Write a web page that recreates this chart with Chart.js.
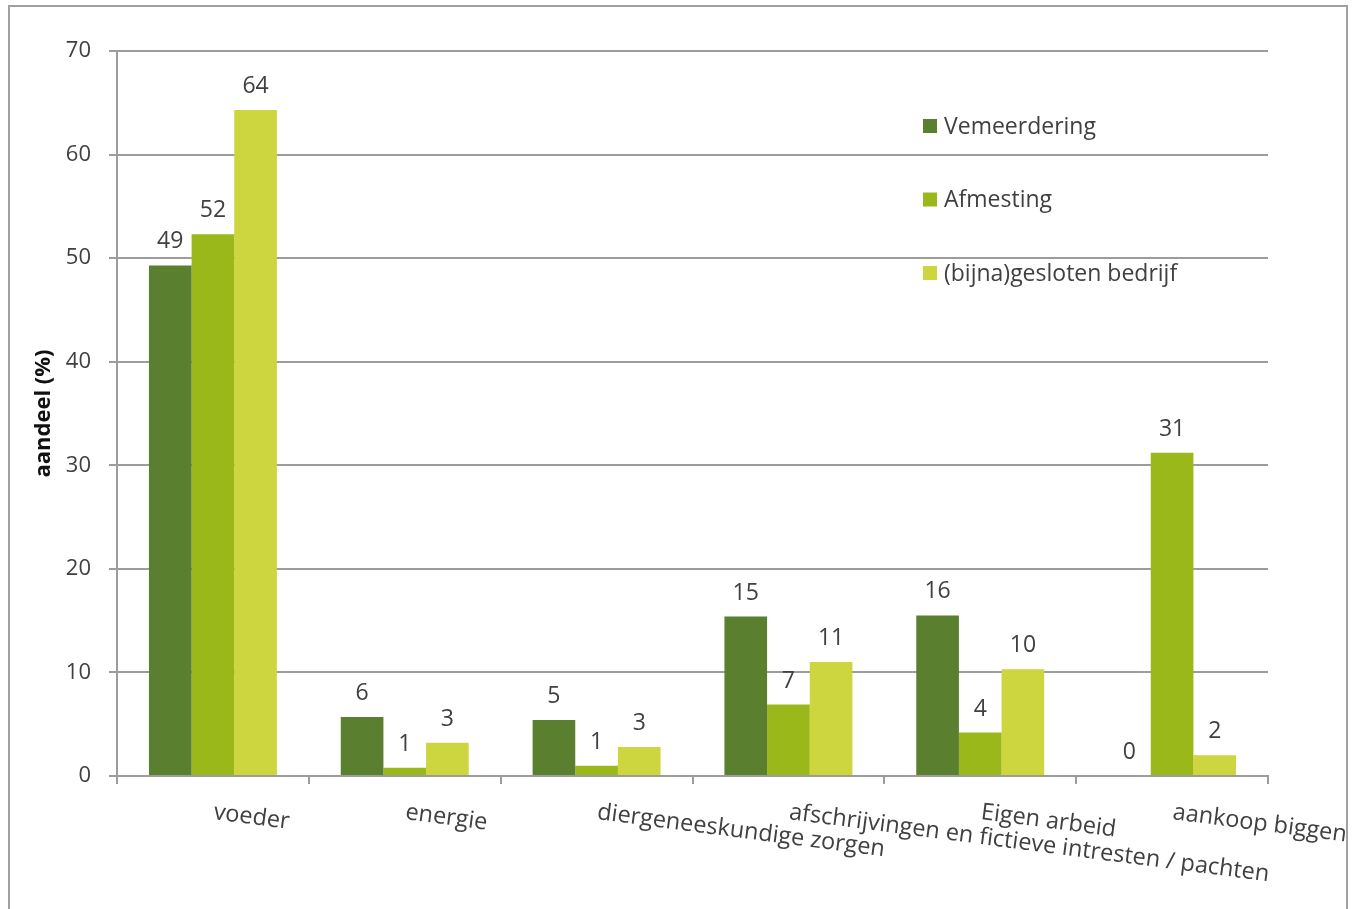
<!DOCTYPE html>
<html>
<head>
<meta charset="utf-8">
<script src="https://cdn.jsdelivr.net/npm/chart.js@4.4.1/dist/chart.umd.min.js"></script>
<style>
  html, body { margin: 0; padding: 0; background: #ffffff; }
  #wrap { width: 1354px; height: 909px; position: relative; }
</style>
</head>
<body>
<div id="wrap"><canvas id="c" width="1354" height="909"></canvas></div>
<script>
const categories = ['voeder', 'energie', 'diergeneeskundige zorgen', 'afschrijvingen en fictieve intresten / pachten', 'Eigen arbeid', 'aankoop biggen'];
const seriesNames = ['Vemeerdering', 'Afmesting', '(bijna)gesloten bedrijf'];
const vermeerdering = [49.3, 5.7, 5.4, 15.4, 15.5, 0];
const afmesting = [52.3, 0.8, 1.0, 6.9, 4.2, 31.2];
const gesloten = [64.3, 3.2, 2.8, 11.0, 10.3, 2.0];
const yTicks = [0, 10, 20, 30, 40, 50, 60, 70];
const colors = ['#5a7f2e', '#9bb81a', '#cdd63f'];

const FONT = '"Open Sans", "DejaVu Sans", sans-serif';
const TEXT = '#404040';
const GRID = '#9c9c9c';

const framePlugin = {
  id: 'frame',
  beforeDraw(chart) {
    const ctx = chart.ctx;
    ctx.save();
    ctx.fillStyle = '#ffffff';
    ctx.fillRect(0, 0, chart.width, chart.height);
    ctx.strokeStyle = '#a0a0a0';
    ctx.lineWidth = 2;
    ctx.strokeRect(9, 6, 1338, 920);
    ctx.restore();
  }
};

const labelPlugin = {
  id: 'valueLabels',
  afterDatasetsDraw(chart) {
    const ctx = chart.ctx;
    ctx.save();
    ctx.font = '23px ' + FONT;
    ctx.fillStyle = TEXT;
    ctx.textAlign = 'center';
    ctx.textBaseline = 'alphabetic';
    chart.data.datasets.forEach((ds, di) => {
      const meta = chart.getDatasetMeta(di);
      meta.data.forEach((bar, i) => {
        ctx.fillText(String(Math.round(ds.data[i])), bar.x, bar.y - 17);
      });
    });
    ctx.restore();
  }
};

const catLabelPlugin = {
  id: 'catLabels',
  afterDraw(chart) {
    const ctx = chart.ctx;
    const xs = chart.scales.x;
    ctx.save();
    ctx.font = '23.5px ' + FONT;
    ctx.fillStyle = TEXT;
    ctx.textAlign = 'left';
    ctx.textBaseline = 'alphabetic';
    chart.data.labels.forEach((lab, i) => {
      const x = xs.getPixelForValue(i);
      const y = xs.top + 43;
      ctx.save();
      ctx.translate(x, y);
      ctx.rotate(7.4 * Math.PI / 180);
      ctx.fillText(lab, 0, 0);
      ctx.restore();
    });
    ctx.restore();
  }
};

const legendPlugin = {
  id: 'floatLegend',
  afterDraw(chart) {
    const ctx = chart.ctx;
    ctx.save();
    ctx.font = '23px ' + FONT;
    ctx.fillStyle = TEXT;
    ctx.textBaseline = 'middle';
    chart.data.datasets.forEach((ds, i) => {
      const cy = 126 + i * 73.5;
      ctx.fillStyle = ds.backgroundColor;
      ctx.fillRect(923, cy - 7, 14, 14);
      ctx.fillStyle = TEXT;
      ctx.fillText(ds.label, 944, cy + 1);
    });
    ctx.restore();
  }
};

new Chart(document.getElementById('c'), {
  type: 'bar',
  data: {
    labels: categories,
    datasets: [
      { label: seriesNames[0], data: vermeerdering, backgroundColor: colors[0] },
      { label: seriesNames[1], data: afmesting, backgroundColor: colors[1] },
      { label: seriesNames[2], data: gesloten, backgroundColor: colors[2] }
    ]
  },
  options: {
    responsive: false,
    animation: false,
    devicePixelRatio: 1,
    layout: { padding: { left: 28, top: 51, right: 86, bottom: 0 } },
    datasets: { bar: { categoryPercentage: 0.667, barPercentage: 1.0, borderWidth: 0 } },
    plugins: { legend: { display: false }, tooltip: { enabled: false } },
    scales: {
      x: {
        grid: { display: true, drawOnChartArea: false, drawTicks: true, tickLength: 8, color: GRID, lineWidth: 2, offset: true },
        border: { display: true, color: GRID, width: 2 },
        ticks: { display: false },
        afterFit(scale) { scale.height = 133; }
      },
      y: {
        min: 0, max: 70,
        afterBuildTicks(scale) { scale.ticks = yTicks.map(v => ({ value: v })); },
        grid: { color: GRID, lineWidth: 2, tickLength: 8, drawTicks: true },
        border: { display: true, color: GRID, width: 2 },
        ticks: { color: TEXT, font: { family: FONT, size: 22 }, padding: 18 },
        title: { display: true, text: 'aandeel (%)', color: '#111111', padding: { top: 3, bottom: 3 }, font: { family: FONT, size: 22, weight: 'bold' } },
        afterFit(scale) { scale.width = 89; }
      }
    }
  },
  plugins: [framePlugin, labelPlugin, catLabelPlugin, legendPlugin]
});
</script>
</body>
</html>
